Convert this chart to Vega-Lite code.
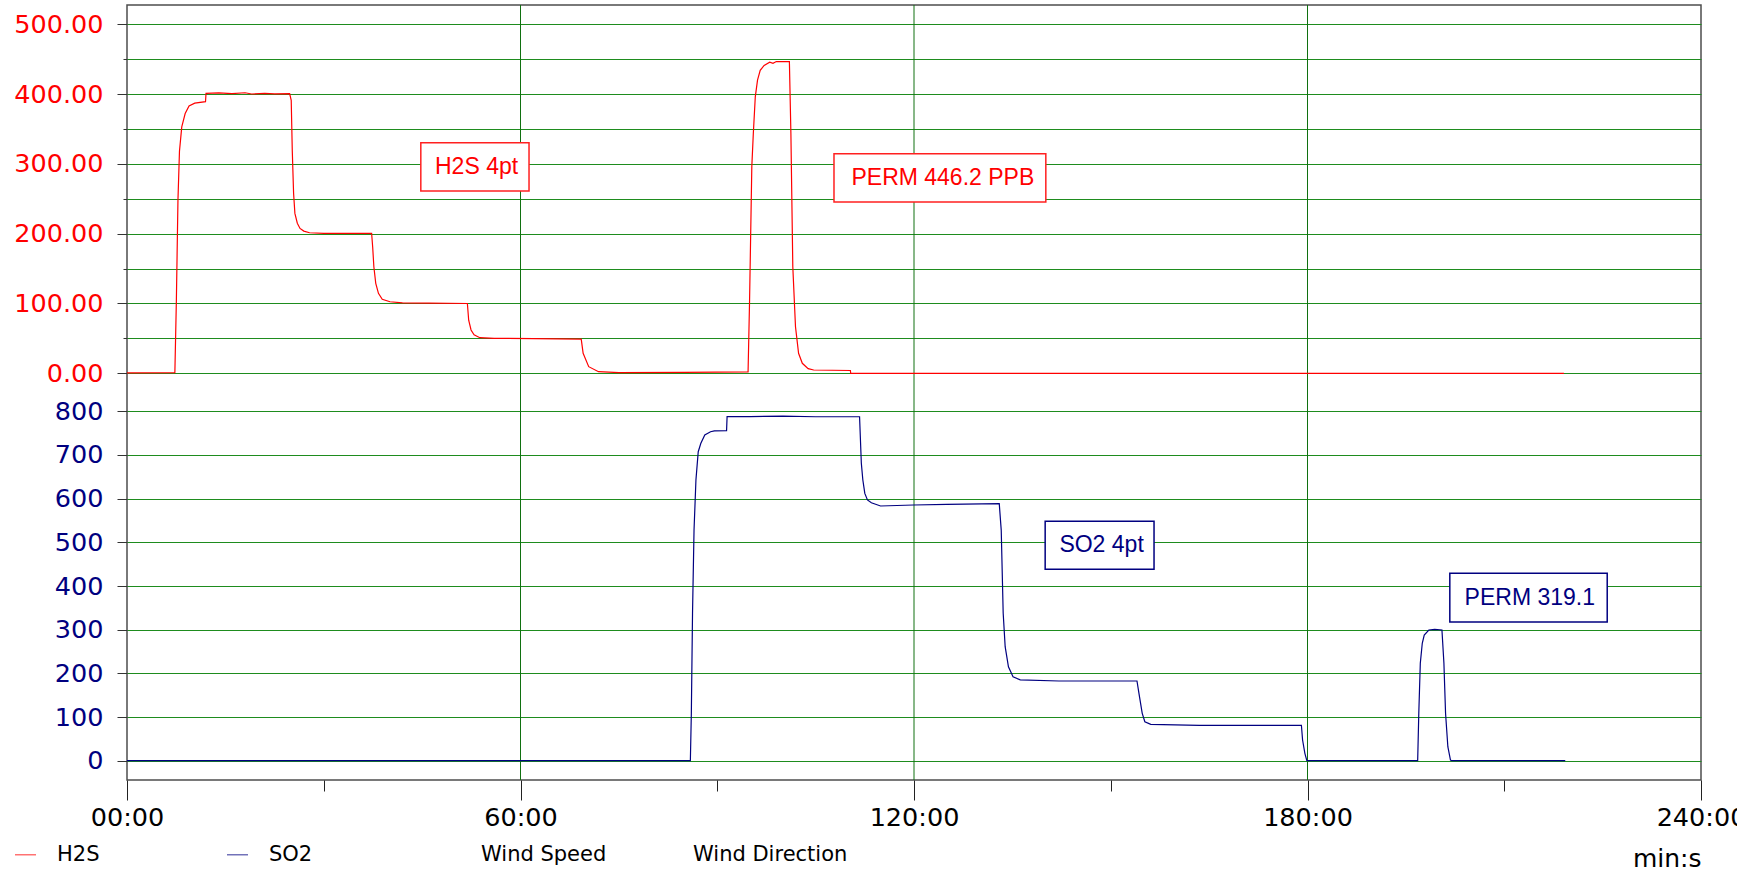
{
  "$schema": "https://vega.github.io/schema/vega-lite/v6.json",
  "width": 1574,
  "height": 775,
  "autosize": {"type": "none"},
  "padding": {"left": 127, "top": 5, "right": 36, "bottom": 92},
  "background": "white",
  "config": {
    "view": {"stroke": "#4d4d4d", "strokeWidth": 1.5},
    "axis": {"labelFont": "DejaVu Sans", "titleFont": "DejaVu Sans", "domain": false, "tickColor": "#333333", "gridWidth": 1},
    "legend": {"labelFont": "DejaVu Sans", "labelFontSize": 21, "labelColor": "#000000"}
  },
  "datasets": {
    "h2s": [
      {"series": "H2S", "t": 0, "v": 0.5}, {"series": "H2S", "t": 7.3, "v": 1}, {"series": "H2S", "t": 7.53, "v": 105},
      {"series": "H2S", "t": 7.77, "v": 248}, {"series": "H2S", "t": 8.0, "v": 318}, {"series": "H2S", "t": 8.35, "v": 353},
      {"series": "H2S", "t": 8.87, "v": 372}, {"series": "H2S", "t": 9.46, "v": 383}, {"series": "H2S", "t": 10.33, "v": 387},
      {"series": "H2S", "t": 11.97, "v": 389}, {"series": "H2S", "t": 12.05, "v": 401}, {"series": "H2S", "t": 14, "v": 401.5},
      {"series": "H2S", "t": 16, "v": 400.5}, {"series": "H2S", "t": 18, "v": 401.8}, {"series": "H2S", "t": 19, "v": 400},
      {"series": "H2S", "t": 21, "v": 401}, {"series": "H2S", "t": 22.5, "v": 400.2}, {"series": "H2S", "t": 24.8, "v": 400.5},
      {"series": "H2S", "t": 25.04, "v": 391}, {"series": "H2S", "t": 25.2, "v": 319}, {"series": "H2S", "t": 25.4, "v": 258},
      {"series": "H2S", "t": 25.6, "v": 229}, {"series": "H2S", "t": 25.97, "v": 215}, {"series": "H2S", "t": 26.38, "v": 207.5},
      {"series": "H2S", "t": 26.96, "v": 203.7}, {"series": "H2S", "t": 27.84, "v": 201.3}, {"series": "H2S", "t": 30, "v": 200.5},
      {"series": "H2S", "t": 34, "v": 200.5}, {"series": "H2S", "t": 37.3, "v": 200.5}, {"series": "H2S", "t": 37.46, "v": 181},
      {"series": "H2S", "t": 37.64, "v": 152.6}, {"series": "H2S", "t": 37.93, "v": 128.8}, {"series": "H2S", "t": 38.34, "v": 114.5},
      {"series": "H2S", "t": 38.92, "v": 106}, {"series": "H2S", "t": 40.1, "v": 102.5}, {"series": "H2S", "t": 42, "v": 101},
      {"series": "H2S", "t": 46, "v": 100.5}, {"series": "H2S", "t": 51.9, "v": 100}, {"series": "H2S", "t": 52.1, "v": 76},
      {"series": "H2S", "t": 52.46, "v": 62}, {"series": "H2S", "t": 52.92, "v": 55}, {"series": "H2S", "t": 53.8, "v": 51},
      {"series": "H2S", "t": 56, "v": 50}, {"series": "H2S", "t": 62, "v": 49.8}, {"series": "H2S", "t": 69.26, "v": 49},
      {"series": "H2S", "t": 69.55, "v": 28.6}, {"series": "H2S", "t": 70.4, "v": 9.5}, {"series": "H2S", "t": 71.9, "v": 2.3},
      {"series": "H2S", "t": 75, "v": 1}, {"series": "H2S", "t": 85, "v": 1.2}, {"series": "H2S", "t": 94.7, "v": 2},
      {"series": "H2S", "t": 94.93, "v": 105}, {"series": "H2S", "t": 95.27, "v": 296}, {"series": "H2S", "t": 95.5, "v": 343.5},
      {"series": "H2S", "t": 95.8, "v": 396}, {"series": "H2S", "t": 96.14, "v": 420}, {"series": "H2S", "t": 96.55, "v": 434},
      {"series": "H2S", "t": 97.15, "v": 441}, {"series": "H2S", "t": 98.0, "v": 445.6}, {"series": "H2S", "t": 98.5, "v": 444},
      {"series": "H2S", "t": 99, "v": 446.5}, {"series": "H2S", "t": 101.0, "v": 446.6}, {"series": "H2S", "t": 101.23, "v": 343.5},
      {"series": "H2S", "t": 101.52, "v": 152.6}, {"series": "H2S", "t": 101.93, "v": 66.7}, {"series": "H2S", "t": 102.4, "v": 28.6},
      {"series": "H2S", "t": 102.97, "v": 14.3}, {"series": "H2S", "t": 103.86, "v": 6.6}, {"series": "H2S", "t": 104.7, "v": 4.7},
      {"series": "H2S", "t": 110.3, "v": 4}, {"series": "H2S", "t": 110.35, "v": 0}, {"series": "H2S", "t": 219.1, "v": 0}
    ],
    "so2": [
      {"series": "SO2", "t": 0, "v": 0}, {"series": "SO2", "t": 85.9, "v": 0}, {"series": "SO2", "t": 86.05, "v": 108.5},
      {"series": "SO2", "t": 86.23, "v": 337.5}, {"series": "SO2", "t": 86.46, "v": 528}, {"series": "SO2", "t": 86.75, "v": 642.7},
      {"series": "SO2", "t": 87.1, "v": 707.5}, {"series": "SO2", "t": 87.5, "v": 726.7}, {"series": "SO2", "t": 88.1, "v": 745.7},
      {"series": "SO2", "t": 88.98, "v": 753.3}, {"series": "SO2", "t": 89.56, "v": 755}, {"series": "SO2", "t": 91.42, "v": 755.6},
      {"series": "SO2", "t": 91.5, "v": 787.6}, {"series": "SO2", "t": 95, "v": 788}, {"series": "SO2", "t": 100, "v": 789},
      {"series": "SO2", "t": 105, "v": 787.5}, {"series": "SO2", "t": 111.7, "v": 787.5}, {"series": "SO2", "t": 111.97, "v": 681},
      {"series": "SO2", "t": 112.2, "v": 642.7}, {"series": "SO2", "t": 112.5, "v": 612}, {"series": "SO2", "t": 112.9, "v": 597},
      {"series": "SO2", "t": 113.5, "v": 590.7}, {"series": "SO2", "t": 114.9, "v": 583.2}, {"series": "SO2", "t": 119.9, "v": 585.5},
      {"series": "SO2", "t": 125, "v": 587}, {"series": "SO2", "t": 133.0, "v": 588.5}, {"series": "SO2", "t": 133.3, "v": 528},
      {"series": "SO2", "t": 133.6, "v": 337.5}, {"series": "SO2", "t": 133.9, "v": 261}, {"series": "SO2", "t": 134.4, "v": 215},
      {"series": "SO2", "t": 135.1, "v": 192}, {"series": "SO2", "t": 136.2, "v": 185}, {"series": "SO2", "t": 142.1, "v": 182.5},
      {"series": "SO2", "t": 154.0, "v": 182.5}, {"series": "SO2", "t": 154.3, "v": 154}, {"series": "SO2", "t": 154.8, "v": 108.5},
      {"series": "SO2", "t": 155.2, "v": 89.3}, {"series": "SO2", "t": 156.1, "v": 83.3}, {"series": "SO2", "t": 163.5, "v": 81},
      {"series": "SO2", "t": 179.07, "v": 81}, {"series": "SO2", "t": 179.25, "v": 47.4}, {"series": "SO2", "t": 179.6, "v": 16.9},
      {"series": "SO2", "t": 179.9, "v": 0}, {"series": "SO2", "t": 196.8, "v": 0}, {"series": "SO2", "t": 196.97, "v": 108.5},
      {"series": "SO2", "t": 197.2, "v": 223}, {"series": "SO2", "t": 197.5, "v": 268.8}, {"series": "SO2", "t": 197.8, "v": 287.8},
      {"series": "SO2", "t": 198.5, "v": 299.3}, {"series": "SO2", "t": 199.4, "v": 300.8}, {"series": "SO2", "t": 200.5, "v": 299.3},
      {"series": "SO2", "t": 200.8, "v": 223}, {"series": "SO2", "t": 201.05, "v": 108.5}, {"series": "SO2", "t": 201.4, "v": 32},
      {"series": "SO2", "t": 201.8, "v": 1.6}, {"series": "SO2", "t": 202, "v": 0}, {"series": "SO2", "t": 219.3, "v": 0}
    ],
    "vgrid": [{"t": 60}, {"t": 120}, {"t": 180}],
    "h2sNotes": [
      {"label": "H2S 4pt", "x1": 44.8, "x2": 61.3, "y1": 261, "y2": 330.1, "tx": 53.3, "ty": 295.5},
      {"label": "PERM 446.2 PPB", "x1": 107.8, "x2": 140.1, "y1": 245.2, "y2": 314.3, "tx": 124.4, "ty": 279.7}
    ],
    "so2Notes": [
      {"label": "SO2 4pt", "x1": 140.0, "x2": 156.6, "y1": 438.2, "y2": 548.1, "tx": 148.6, "ty": 493.2},
      {"label": "PERM 319.1", "x1": 201.7, "x2": 225.7, "y1": 317.6, "y2": 429.1, "tx": 213.9, "ty": 373.2}
    ]
  },
  "layer": [
    {
      "data": {"name": "vgrid"},
      "mark": {"type": "rule", "color": "#107010", "strokeWidth": 1},
      "encoding": {
        "x": {"field": "t", "type": "quantitative", "axis": null}
      }
    },
    {
      "data": {"name": "h2s"},
      "mark": {"type": "line", "strokeWidth": 1.2, "interpolate": "linear"},
      "encoding": {
        "x": {
          "field": "t", "type": "quantitative",
          "scale": {"domain": [0, 240], "nice": false, "zero": false},
          "axis": {
            "orient": "bottom",
            "values": [0, 60, 120, 180, 240],
            "labelExpr": "(datum.value < 10 ? '0' + datum.value : '' + datum.value) + ':00'",
            "tickSize": 20, "tickColor": "#222222", "grid": false,
            "labelFontSize": 25.5, "labelColor": "#000000", "labelPadding": 5,
            "labelFlush": false, "labelOverlap": false,
            "title": "min:s", "titleFontSize": 25, "titleFontWeight": "normal", "titleColor": "#000000",
            "titleAnchor": "end", "titleAlign": "right", "titleX": 1574, "titleY": 78, "titleBaseline": "middle"
          }
        },
        "y": {
          "field": "v", "type": "quantitative",
          "scale": {"domain": [0, 500], "range": [368.3, 19.2], "nice": false, "zero": false},
          "axis": {
            "orient": "left",
            "values": [0, 100, 200, 300, 400, 500],
            "format": ".2f",
            "labelColor": "#ff0000", "labelFontSize": 25.5, "labelPadding": 14, "tickSize": 10,
            "grid": true, "gridColor": "#1e8c1e", "title": null, "labelOverlap": false
          }
        },
        "color": {
          "field": "series", "type": "nominal",
          "scale": {"domain": ["H2S", "SO2", "Wind Speed", "Wind Direction"], "range": ["#ff0000", "#000080", "transparent", "transparent"]},
          "legend": {
            "title": null, "orient": "none", "legendX": -113, "legendY": 838, "direction": "horizontal", "columns": 4,
            "symbolType": "stroke", "symbolSize": 441, "symbolStrokeWidth": 1.5, "symbolOpacity": 0.55,
            "labelOffset": 20, "columnPadding": 12, "gridAlign": "all", "labelFontSize": 21, "labelLimit": 300
          }
        }
      }
    },
    {
      "data": {"name": "h2sNotes"},
      "mark": {"type": "rect", "fill": "white", "stroke": "#ff2020", "strokeWidth": 1.5},
      "encoding": {
        "x": {"field": "x1", "type": "quantitative", "axis": null},
        "x2": {"field": "x2"},
        "y": {
          "field": "y1", "type": "quantitative",
          "scale": {"domain": [0, 500], "range": [368.3, 19.2], "nice": false, "zero": false},
          "axis": {"orient": "left", "values": [50, 150, 250, 350, 450], "labels": false, "tickSize": 4, "grid": true, "gridColor": "#1e8c1e", "title": null}
        },
        "y2": {"field": "y2"}
      }
    },
    {
      "data": {"name": "h2sNotes"},
      "mark": {"type": "text", "font": "Liberation Sans", "fontSize": 23, "color": "#ff0000", "align": "center", "baseline": "middle"},
      "encoding": {
        "x": {"field": "tx", "type": "quantitative", "axis": null},
        "y": {
          "field": "ty", "type": "quantitative", "axis": null,
          "scale": {"domain": [0, 500], "range": [368.3, 19.2], "nice": false, "zero": false}
        },
        "text": {"field": "label"}
      }
    },
    {
      "data": {"name": "so2"},
      "mark": {"type": "line", "strokeWidth": 1.2, "interpolate": "linear"},
      "encoding": {
        "x": {
          "field": "t", "type": "quantitative",
          "axis": {"orient": "bottom", "values": [30, 90, 150, 210], "tickSize": 11, "tickColor": "#222222", "labels": false, "grid": false, "title": null}
        },
        "y": {
          "field": "v", "type": "quantitative",
          "scale": {"domain": [0, 800], "range": [755.7, 406.3], "nice": false, "zero": false},
          "axis": {
            "orient": "left",
            "values": [0, 100, 200, 300, 400, 500, 600, 700, 800],
            "format": "d",
            "labelColor": "#000080", "labelFontSize": 25.5, "labelPadding": 14, "tickSize": 10,
            "grid": true, "gridColor": "#1e8c1e", "title": null, "labelOverlap": false
          }
        },
        "color": {
          "field": "series", "type": "nominal",
          "scale": {"domain": ["H2S", "SO2", "Wind Speed", "Wind Direction"], "range": ["#ff0000", "#000080", "transparent", "transparent"]},
          "legend": {
            "title": null, "orient": "none", "legendX": -113, "legendY": 838, "direction": "horizontal", "columns": 4,
            "symbolType": "stroke", "symbolSize": 441, "symbolStrokeWidth": 1.5, "symbolOpacity": 0.55,
            "labelOffset": 20, "columnPadding": 12, "gridAlign": "all", "labelFontSize": 21, "labelLimit": 300
          }
        }
      }
    },
    {
      "data": {"name": "so2Notes"},
      "mark": {"type": "rect", "fill": "white", "stroke": "#000080", "strokeWidth": 1.5},
      "encoding": {
        "x": {"field": "x1", "type": "quantitative", "axis": null},
        "x2": {"field": "x2"},
        "y": {
          "field": "y1", "type": "quantitative", "axis": null,
          "scale": {"domain": [0, 800], "range": [755.7, 406.3], "nice": false, "zero": false}
        },
        "y2": {"field": "y2"}
      }
    },
    {
      "data": {"name": "so2Notes"},
      "mark": {"type": "text", "font": "Liberation Sans", "fontSize": 23, "color": "#000080", "align": "center", "baseline": "middle"},
      "encoding": {
        "x": {"field": "tx", "type": "quantitative", "axis": null},
        "y": {
          "field": "ty", "type": "quantitative", "axis": null,
          "scale": {"domain": [0, 800], "range": [755.7, 406.3], "nice": false, "zero": false}
        },
        "text": {"field": "label"}
      }
    }
  ],
  "resolve": {"scale": {"y": "independent"}, "axis": {"x": "independent", "y": "independent"}}
}
